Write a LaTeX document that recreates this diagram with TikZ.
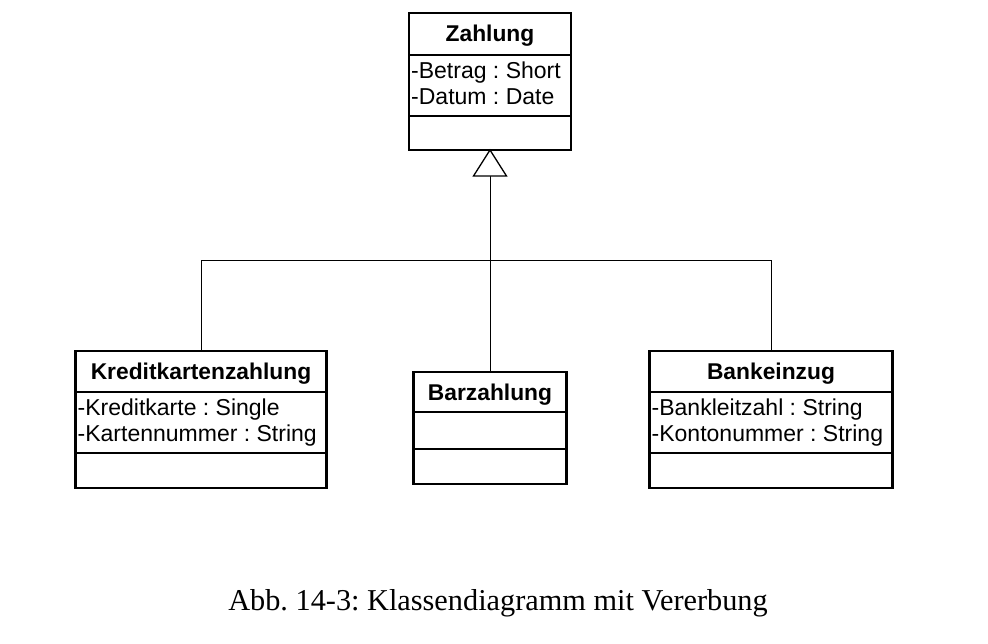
\documentclass[tikz,border=0pt]{standalone}
\usepackage{fontspec}
\setmainfont{Liberation Serif}
\newfontfamily\umlfont{Liberation Sans}
\frenchspacing
\begin{document}
\begin{tikzpicture}[x=1pt,y=-1pt,
  classbox/.style={draw, line width=2.8pt, rectangle, inner sep=0pt, outer sep=0pt},
  divider/.style={line width=2.8pt},
  cname/.style={font=\umlfont\bfseries\fontsize{22.8}{26}\selectfont, inner sep=0pt, anchor=base},
  attr/.style={font=\umlfont\fontsize{23}{26}\selectfont, inner sep=0pt, anchor=base west},
  conn/.style={line width=1pt},
  inherit/.style={line width=1.3pt, fill=white}]
\useasboundingbox (0,0) rectangle (988,643);
% Zahlung
\node[classbox, minimum width=162pt, minimum height=137pt] (zahlung) at (490,81.5) {};
\draw[divider] (409,55) -- (571,55);
\draw[divider] (409,116) -- (571,116);
\node[cname] (zname) at (490,41) {Zahlung};
\node[attr] (za1) at (411,78) {-Betrag : Short};
\node[attr] (za2) at (411,104) {-Datum : Date};
% Kreditkartenzahlung
\node[classbox, minimum width=251pt, minimum height=137pt] (kredit) at (201,419.5) {};
\draw[divider] (75.5,392) -- (326.5,392);
\draw[divider] (75.5,453) -- (326.5,453);
\node[cname] (kname) at (201,379) {Kreditkartenzahlung};
\node[attr] (ka1) at (77.5,415) {-Kreditkarte : Single};
\node[attr] (ka2) at (77.5,441) {-Kartennummer : String};
% Barzahlung
\node[classbox, minimum width=153pt, minimum height=112pt] (bar) at (490,428) {};
\draw[divider] (413.5,412) -- (566.5,412);
\draw[divider] (413.5,449) -- (566.5,449);
\node[cname] (bname) at (490,400) {Barzahlung};
% Bankeinzug
\node[classbox, minimum width=243pt, minimum height=137pt] (bank) at (771,419.5) {};
\draw[divider] (649.5,392) -- (892.5,392);
\draw[divider] (649.5,453) -- (892.5,453);
\node[cname] (bkname) at (771,379) {Bankeinzug};
\node[attr] (bka1) at (651.5,415) {-Bankleitzahl : String};
\node[attr] (bka2) at (651.5,441) {-Kontonummer : String};
% Inheritance
\coordinate (tip) at (zahlung.south);
\coordinate (tbase) at (490,176);
\coordinate (junc) at (490,260.5);
\draw[conn] (tbase) -- (junc);
\draw[conn] (kredit.north) |- (junc);
\draw[conn] (bank.north) |- (junc);
\draw[conn] (bar.north) -- (junc);
\draw[inherit, line join=miter] (tip) -- (473.5,176) -- (506.5,176) -- cycle;
% Caption
\node[font=\fontsize{30.3}{34}\selectfont, inner sep=0pt, anchor=base] (caption) at (498,610) {Abb.\ 14-3: Klassendiagramm mit Vererbung};
\end{tikzpicture}
\end{document}
